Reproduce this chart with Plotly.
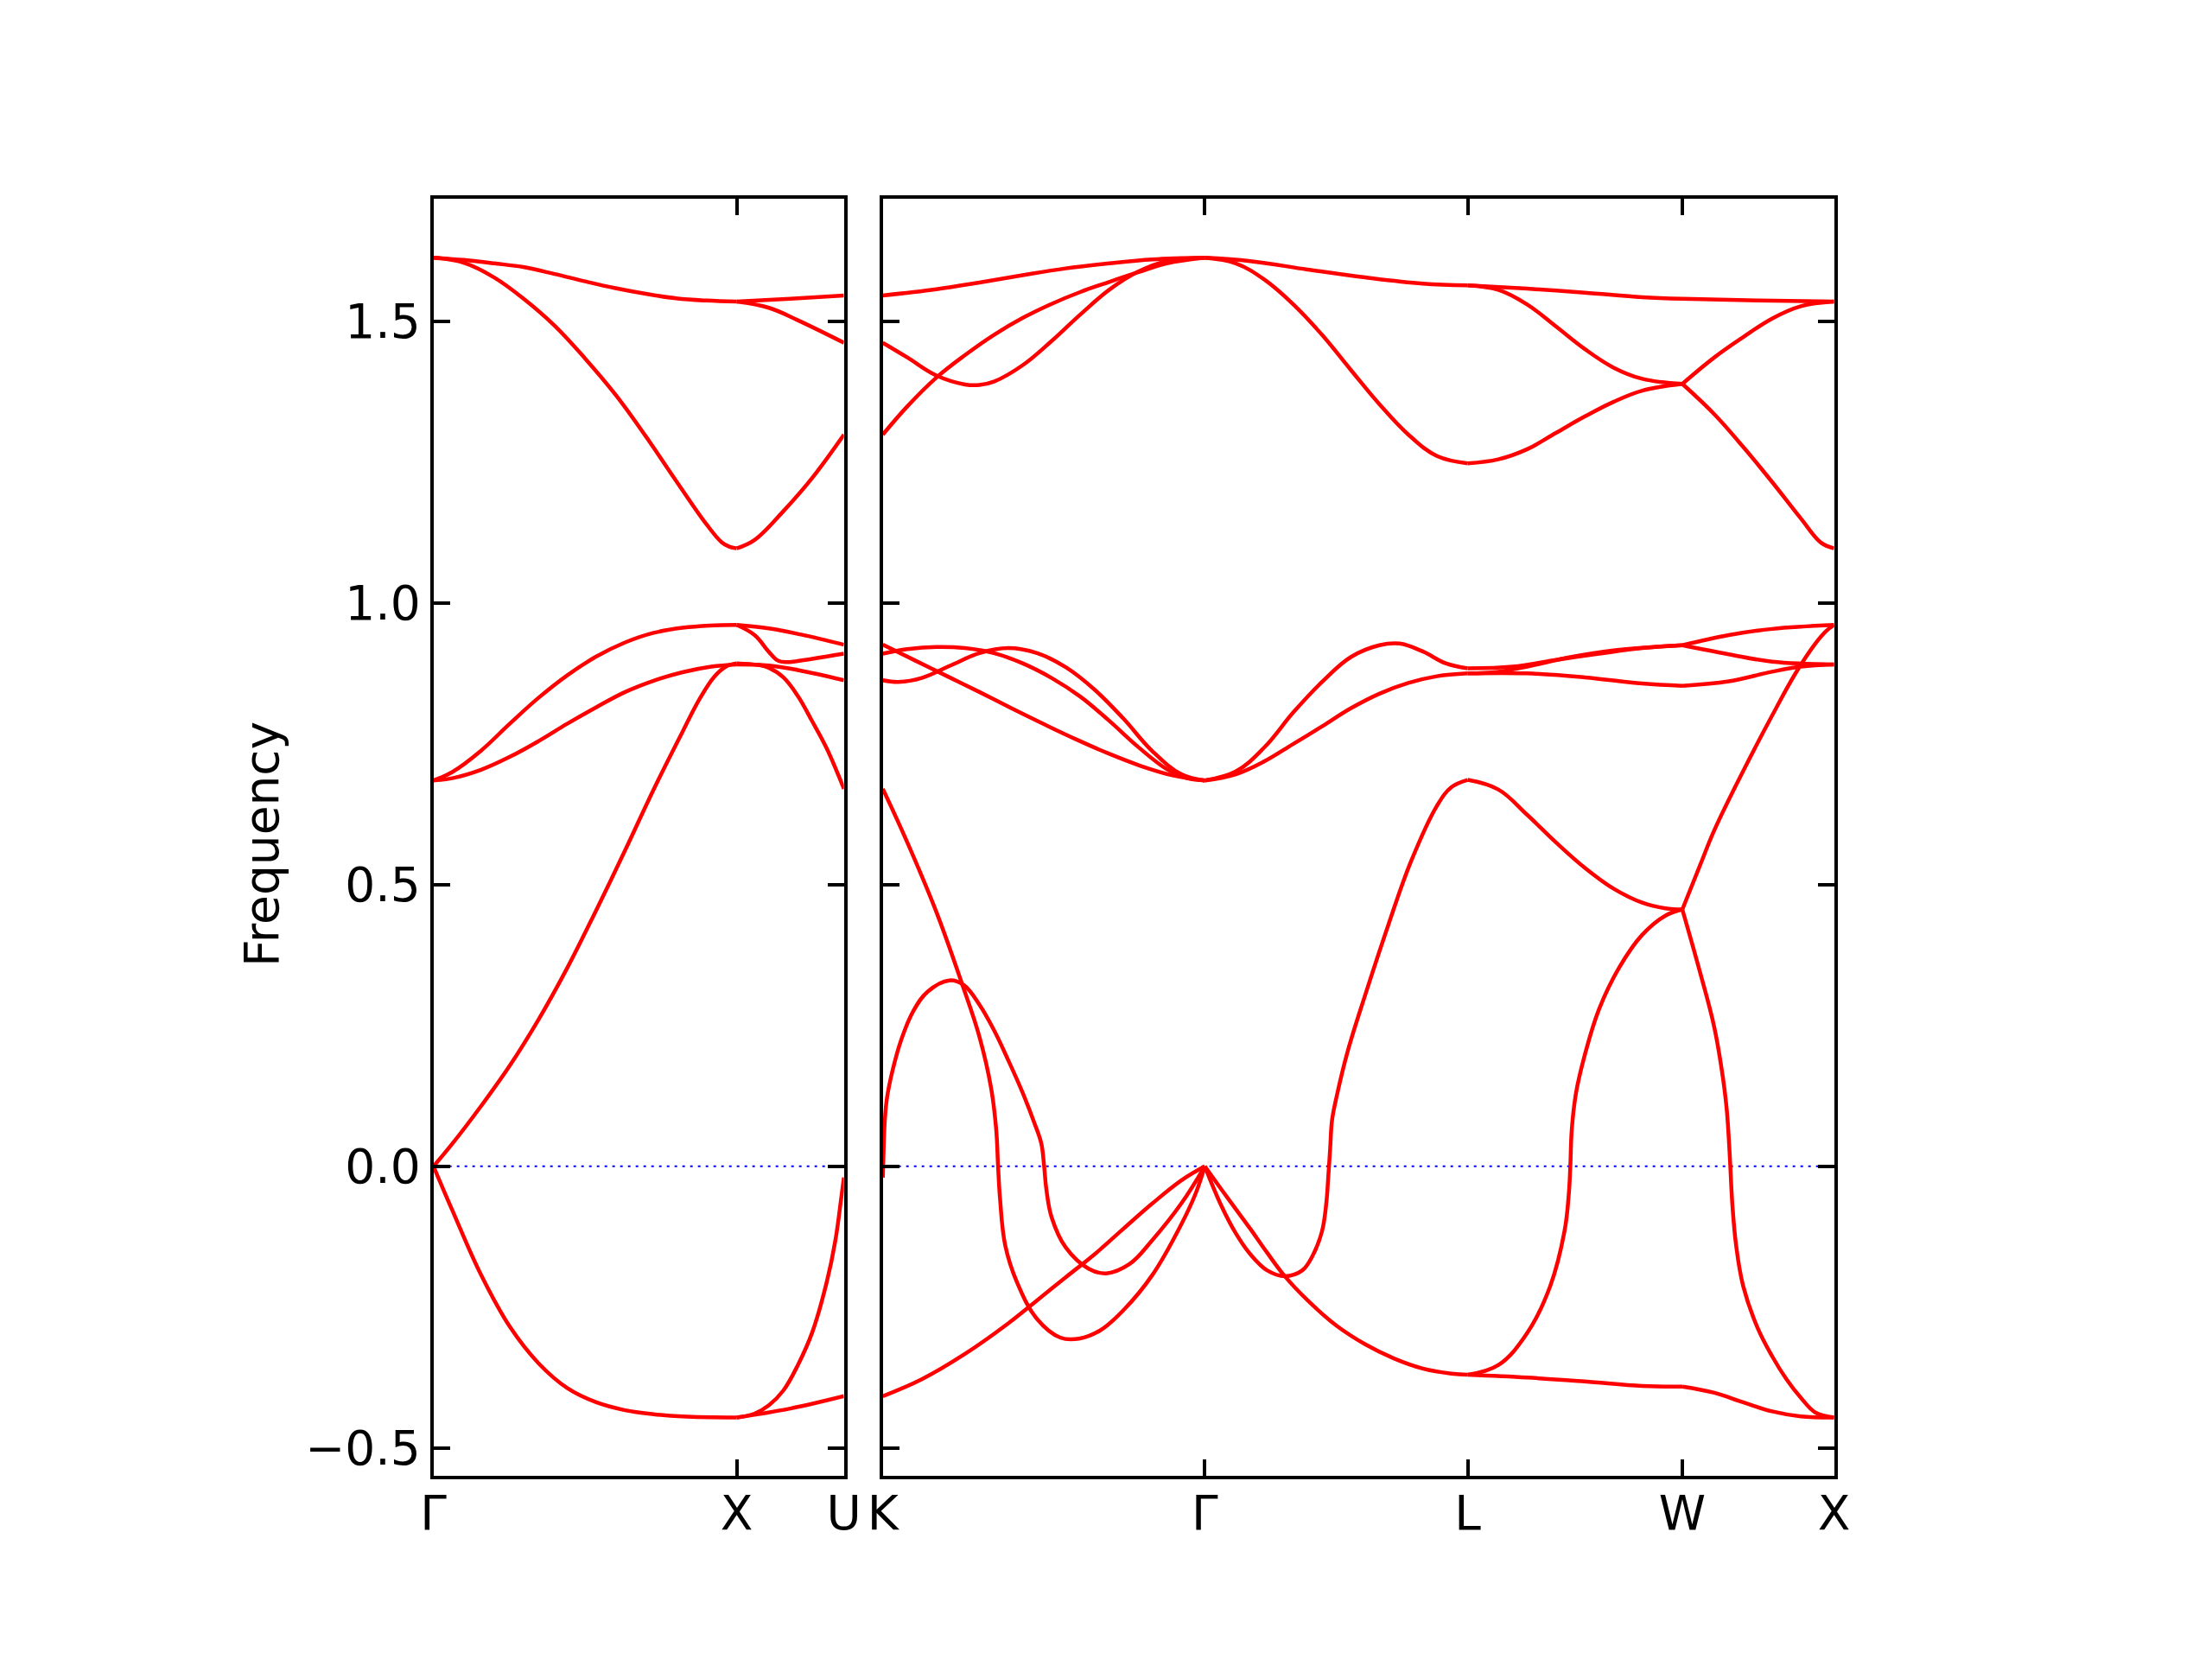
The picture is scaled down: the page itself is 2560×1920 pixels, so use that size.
import plotly.graph_objects as go

# ---------------- k-path definition (2pi/a units) ----------------
left_labels = ["Γ", "X", "U"]
right_labels = ["K", "Γ", "L", "W", "X"]
seg_len = {"GX": 1.0, "XU": 0.3536, "KG": 1.0607, "GL": 0.8660, "LW": 0.7071, "WX": 0.5}
seg_start = {"GX": 0.0, "XU": 1.0, "KG": 0.0, "GL": 1.0607, "LW": 1.9267, "WX": 2.6338}
seg_panel = {"GX": 1, "XU": 1, "KG": 2, "GL": 2, "LW": 2, "WX": 2}

# ---------------- bands: (fraction along segment, frequency) ----------------
GX = [
    ([0, .1, .2, .3, .4, .5, .6, .7, .8, .9, 1],
     [1.613, 1.609, 1.603, 1.596, 1.584, 1.571, 1.559, 1.549, 1.541, 1.537, 1.535]),
    ([0, .1, .2, .3, .4, .5, .6, .7, .8, .9, .95, .975, 1],
     [1.613, 1.604, 1.578, 1.539, 1.492, 1.434, 1.370, 1.296, 1.217, 1.140, 1.108, 1.100, 1.097]),
    ([0, .062, .157, .252, .347, .442, .537, .632, .726, .821, .91, 1],
     [0.685, 0.700, 0.738, 0.786, 0.832, 0.872, 0.905, 0.930, 0.947, 0.956, 0.960, 0.961]),
    ([0, .062, .157, .252, .347, .442, .537, .632, .726, .821, .916, 1],
     [0.685, 0.689, 0.704, 0.727, 0.755, 0.786, 0.815, 0.842, 0.862, 0.877, 0.887, 0.891]),
    ([0, .062, .157, .252, .347, .442, .537, .632, .726, .821, .878, .926, .964, 1],
     [0, 0.040, 0.107, 0.179, 0.261, 0.353, 0.455, 0.561, 0.669, 0.771, 0.830, 0.869, 0.887, 0.893]),
    ([0, .062, .157, .252, .347, .442, .537, .632, .726, .821, 1],
     [0, -0.078, -0.193, -0.285, -0.350, -0.394, -0.419, -0.433, -0.440, -0.444, -0.446]),
]

XU = [
    ([0, .5, 1], [1.535, 1.540, 1.546]),
    ([0, .301, .570, 1], [1.535, 1.524, 1.502, 1.462]),
    ([0, .167, .435, .704, 1], [1.097, 1.112, 1.163, 1.222, 1.299]),
    ([0, .3, .6, 1], [0.961, 0.955, 0.944, 0.926]),
    ([0, .167, .301, .382, .462, .704, 1], [0.961, 0.943, 0.913, 0.898, 0.895, 0.901, 0.910]),
    ([0, .301, .570, 1], [0.891, 0.889, 0.881, 0.863]),
    ([0, .2, .3, .435, .57, .704, .839, 1], [0.893, 0.890, 0.885, 0.868, 0.835, 0.790, 0.742, 0.670]),
    ([0, .167, .301, .435, .570, .704, .839, .919, .973, 1],
     [-0.446, -0.439, -0.424, -0.398, -0.353, -0.295, -0.206, -0.133, -0.059, -0.02]),
    ([0, .5, 1], [-0.446, -0.430, -0.408]),
]

KG = [
    ([0, .166, .300, .434, .568, .703, .837, 1],
     [1.546, 1.557, 1.569, 1.582, 1.594, 1.603, 1.610, 1.613]),
    ([0, .076, .166, .255, .345, .434, .524, .613, .703, .792, .882, 1],
     [1.299, 1.349, 1.400, 1.440, 1.476, 1.506, 1.531, 1.552, 1.570, 1.587, 1.603, 1.613]),
    ([0, .076, .166, .255, .300, .345, .434, .524, .613, .703, .792, .882, 1],
     [1.462, 1.436, 1.404, 1.388, 1.387, 1.393, 1.422, 1.465, 1.512, 1.556, 1.588, 1.607, 1.613]),
    ([0, .1, .2, .3, .4, .5, .6, .7, .8, .9, 1],
     [0.926, 0.898, 0.870, 0.842, 0.813, 0.785, 0.758, 0.733, 0.711, 0.694, 0.685]),
    ([0, .076, .166, .255, .345, .434, .524, .613, .703, .792, .882, .945, 1],
     [0.910, 0.918, 0.922, 0.920, 0.911, 0.893, 0.867, 0.834, 0.791, 0.745, 0.705, 0.689, 0.685]),
    ([0, .049, .121, .210, .300, .389, .479, .568, .658, .747, .837, .927, 1],
     [0.863, 0.860, 0.867, 0.889, 0.911, 0.920, 0.911, 0.886, 0.846, 0.795, 0.737, 0.696, 0.685]),
    ([0, .076, .166, .246, .300, .336, .352, .358, .364, .380, .416, .479, .551, .609, .676, .748, .837, .927, .971, 1],
     [0.670, 0.575, 0.452, 0.324, 0.230, 0.140, 0.066, 0, -0.057, -0.140, -0.205, -0.271, -0.304, -0.306,
      -0.291, -0.255, -0.193, -0.103, -0.049, 0]),
    ([0, .0027, .0063, .0134, .031, .058, .094, .139, .206, .251, .300, .345, .389, .434, .470, .492, .501,
      .508, .524, .568, .640, .694, .765, .837, .927, 1],
     [-0.02, 0.033, 0.082, 0.123, 0.172, 0.226, 0.275, 0.310, 0.330, 0.322, 0.287, 0.242, 0.189, 0.131,
      0.078, 0.041, 0, -0.041, -0.090, -0.144, -0.182, -0.190, -0.174, -0.131, -0.066, 0]),
    ([0, .121, .255, .389, .479, .568, .658, .747, .837, .927, 1],
     [-0.408, -0.378, -0.333, -0.279, -0.238, -0.197, -0.156, -0.111, -0.066, -0.025, 0]),
]

GL = [
    ([0, .173, .391, .610, .829, 1], [1.613, 1.607, 1.592, 1.578, 1.567, 1.564]),
    ([0, .118, .227, .337, .446, .555, .664, .774, .883, 1],
     [1.613, 1.603, 1.574, 1.530, 1.476, 1.414, 1.353, 1.299, 1.261, 1.248]),
    ([0, .118, .227, .337, .446, .555, .664, .741, .829, .916, 1],
     [0.685, 0.701, 0.744, 0.806, 0.860, 0.904, 0.925, 0.928, 0.914, 0.893, 0.884]),
    ([0, .118, .227, .337, .446, .555, .664, .774, .883, 1],
     [0.685, 0.696, 0.719, 0.750, 0.781, 0.813, 0.839, 0.858, 0.870, 0.875]),
    ([0, .063, .118, .173, .238, .304, .370, .413, .446, .462, .470, .477, .484, .501, .544, .610, .697,
      .785, .883, .938, 1],
     [0, -0.070, -0.119, -0.156, -0.185, -0.195, -0.185, -0.156, -0.115, -0.066, -0.016, 0.033, 0.082,
      0.123, 0.205, 0.304, 0.427, 0.542, 0.640, 0.673, 0.686]),
    ([0, .063, .118, .173, .238, .304, .391, .501, .610, .719, .829, .938, 1],
     [0, -0.041, -0.076, -0.111, -0.154, -0.195, -0.238, -0.283, -0.316, -0.341, -0.359, -0.368, -0.370]),
]

LW = [
    ([0, .277, .545, .813, 1], [1.564, 1.558, 1.551, 1.543, 1.540]),
    ([0, .142, .277, .411, .545, .679, .813, 1], [1.564, 1.556, 1.530, 1.491, 1.451, 1.418, 1.398, 1.389]),
    ([0, .142, .277, .411, .545, .679, .813, 1], [1.248, 1.255, 1.273, 1.302, 1.331, 1.357, 1.377, 1.389]),
    ([0, .209, .411, .612, .813, 1], [0.884, 0.887, 0.899, 0.910, 0.920, 0.925]),
    ([0, .142, .277, .478, .679, 1], [0.875, 0.878, 0.887, 0.904, 0.916, 0.925]),
    ([0, .277, .545, .813, 1], [0.875, 0.875, 0.868, 0.857, 0.853]),
    ([0, .142, .277, .411, .545, .679, .813, .921, 1],
     [0.686, 0.669, 0.624, 0.575, 0.530, 0.493, 0.468, 0.458, 0.456]),
    ([0, .142, .277, .384, .451, .471, .478, .485, .505, .545, .612, .706, .813, .921, 1],
     [-0.370, -0.353, -0.296, -0.213, -0.115, -0.049, 0, 0.066, 0.131, 0.197, 0.279, 0.353, 0.411, 0.445, 0.456]),
    ([0, .277, .545, .813, 1], [-0.370, -0.375, -0.382, -0.390, -0.391]),
]

WX = [
    ([0, .5, 1], [1.540, 1.537, 1.535]),
    ([0, .211, .401, .591, .781, 1], [1.389, 1.436, 1.472, 1.505, 1.527, 1.535]),
    ([0, .211, .401, .591, .781, .914, 1], [1.389, 1.335, 1.277, 1.215, 1.150, 1.107, 1.097]),
    ([0, .306, .591, 1], [0.925, 0.943, 0.954, 0.961]),
    ([0, .306, .591, 1], [0.925, 0.909, 0.896, 0.891]),
    ([0, .306, .591, .781, 1], [0.853, 0.861, 0.878, 0.887, 0.891]),
    ([0, .116, .211, .401, .591, .743, .876, .95, 1],
     [0.456, 0.534, 0.597, 0.702, 0.800, 0.874, 0.928, 0.951, 0.961]),
    ([0, .116, .211, .268, .293, .306, .316, .329, .354, .401, .496, .591, .686, .781, .876, 1],
     [0.456, 0.345, 0.246, 0.156, 0.099, 0.049, 0, -0.066, -0.140, -0.213, -0.287, -0.337, -0.378,
      -0.411, -0.437, -0.446]),
    ([0, .211, .401, .591, .781, 1], [-0.391, -0.402, -0.419, -0.435, -0.444, -0.446]),
]

segments = {"GX": GX, "XU": XU, "KG": KG, "GL": GL, "LW": LW, "WX": WX}

y_ticks = [-0.5, 0.0, 0.5, 1.0, 1.5]
y_ticktext = ["−0.5", "0.0", "0.5", "1.0", "1.5"]
y_range = [-0.549, 1.718]

# ---------------- derived tick positions ----------------
left_ticks = [seg_start["GX"], seg_start["XU"], seg_start["XU"] + seg_len["XU"]]
right_ticks = [seg_start["KG"], seg_start["GL"], seg_start["LW"], seg_start["WX"],
               seg_start["WX"] + seg_len["WX"]]
left_end = left_ticks[-1]
right_end = right_ticks[-1]

FONT = "DejaVu Sans"
FS = 55

fig = go.Figure()

# zero reference lines
fig.add_trace(go.Scatter(x=[0, left_end], y=[0, 0], mode="lines", xaxis="x", yaxis="y",
                         line=dict(color="blue", width=2, dash="3px,6px"), hoverinfo="skip"))
fig.add_trace(go.Scatter(x=[0, right_end], y=[0, 0], mode="lines", xaxis="x2", yaxis="y2",
                         line=dict(color="blue", width=2, dash="3px,6px"), hoverinfo="skip"))

for name, bands in segments.items():
    s0, L = seg_start[name], seg_len[name]
    xa, ya = ("x", "y") if seg_panel[name] == 1 else ("x2", "y2")
    for ts, fs in bands:
        fig.add_trace(go.Scatter(
            x=[s0 + t * L for t in ts], y=fs, mode="lines", xaxis=xa, yaxis=ya,
            line=dict(color="#ff0000", width=4.5, shape="spline", smoothing=1.1),
            hoverinfo="skip"))

W, H = 2560, 1920
px_l0, px_l1, px_r0, px_r1 = 501.7, 976.7, 1021.7, 2122.7
py_top, py_bot = 229.8, 1707.7

axis_common = dict(showline=True, linecolor="black", linewidth=4, mirror="ticks",
                   ticks="inside", ticklen=19, tickwidth=4, tickcolor="black",
                   showgrid=False, zeroline=False, automargin=False,
                   tickfont=dict(family=FONT, size=FS, color="black"))

fig.update_layout(
    width=W, height=H, autosize=False,
    margin=dict(l=0, r=0, t=0, b=0, pad=0, autoexpand=False),
    paper_bgcolor="white", plot_bgcolor="white",
    showlegend=False,
    font=dict(family=FONT, size=FS, color="black"),
    xaxis=dict(domain=[px_l0 / W, px_l1 / W], range=[0, left_end], anchor="y",
               tickvals=left_ticks, ticktext=left_labels, ticklabelstandoff=-8, **axis_common),
    xaxis2=dict(domain=[px_r0 / W, px_r1 / W], range=[0, right_end], anchor="y2",
                tickvals=right_ticks, ticktext=right_labels, ticklabelstandoff=-8, **axis_common),
    yaxis=dict(domain=[1 - py_bot / H, 1 - py_top / H], range=y_range, anchor="x",
               tickvals=y_ticks, ticktext=y_ticktext, **axis_common),
    yaxis2=dict(domain=[1 - py_bot / H, 1 - py_top / H], range=y_range, anchor="x2",
                tickvals=y_ticks, ticktext=y_ticktext, showticklabels=False, **axis_common),
    annotations=[dict(text="Frequency", x=303 / W, y=1 - 977 / H, xref="paper", yref="paper",
                      showarrow=False, textangle=-90, xanchor="center", yanchor="middle",
                      font=dict(family=FONT, size=FS, color="black"))],
)

fig.write_html("out.html", config={"displayModeBar": False},
               post_script="document.body.style.margin='0px';")
